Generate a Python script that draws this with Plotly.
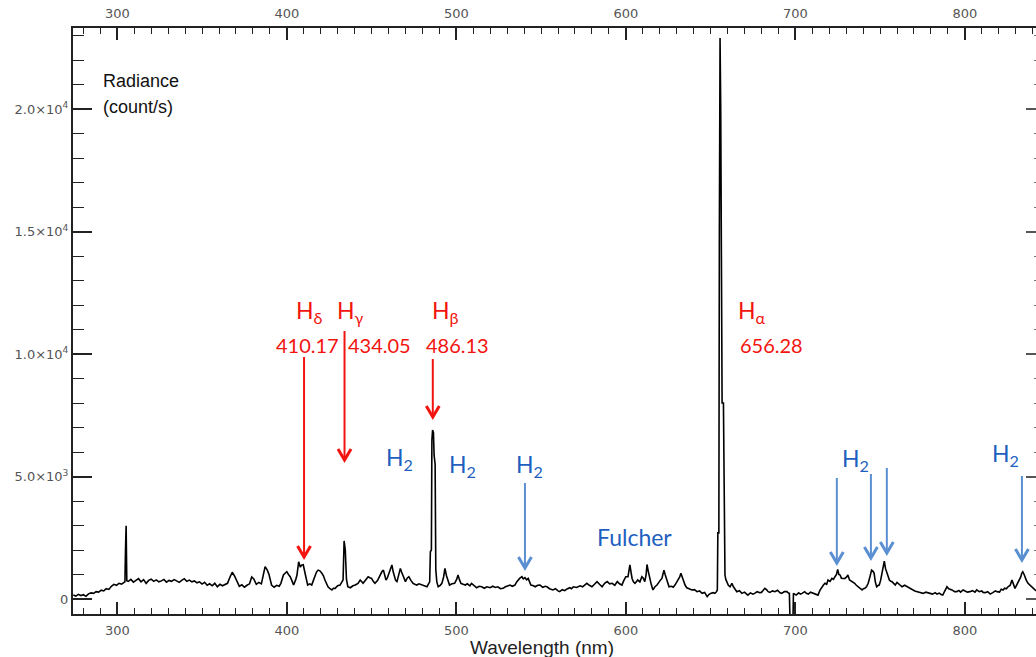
import plotly.graph_objects as go

# Measured spectrum: wavelength (nm) and radiance (count/s)
wavelength_nm = [
    274, 275.5, 277, 278.5, 280, 281.5, 283, 284.5, 286, 287.5, 289, 290.5,
    292, 293.5, 295, 296.5, 298, 299.5, 301, 302.5, 304, 304.5, 304.8, 305.2,
    305.6, 306.5, 308, 309.5, 311, 312.5, 314, 315.5, 317, 318.5, 320, 321.5,
    323, 324.5, 326, 327.5, 329, 330.5, 332, 333.5, 335, 336.5, 338, 339.5,
    341, 342.5, 344, 345.5, 347, 348.5, 350, 351.5, 353, 354.5, 356, 357.5,
    359, 360.5, 362, 363.5, 365, 366.5, 367.8, 369, 370.5, 372, 373.5, 375,
    376.5, 378, 379.3, 380.5, 382, 383.5, 385, 386.2, 387.2, 388.5, 389.5, 391,
    392.5, 394, 395.5, 396.5, 398, 399, 400, 401, 402, 403, 404, 405.2,
    406, 407, 408, 408.7, 409.7, 411, 412.3, 413.5, 414.7, 415.7, 416.6, 417.5,
    418.5, 419.5, 420.7, 421.6, 422.5, 423.5, 424.3, 425.5, 426.6, 427.5, 428.5, 430,
    431.4, 432.5, 433.2, 433.8, 434.5, 435.2, 436, 437.5, 439, 440.4, 442, 443.3,
    444.2, 445, 446.5, 448, 449, 450, 451, 452, 453.5, 455, 456, 457,
    457.8, 458.5, 459.3, 460, 461, 462, 462.8, 463.4, 464.2, 465, 466, 467,
    467.7, 468.5, 469.3, 470, 471, 472, 473.2, 474.5, 475.5, 476.7, 478, 479.7,
    481, 482.7, 483.6, 484.3, 484.7, 485.3, 485.6, 486.0, 486.5, 486.9, 487.5, 487.9,
    488.5, 489.3, 490.5, 491.5, 492.5, 493.3, 494.2, 495, 496, 497.5, 499, 500.2,
    501, 501.8, 502.7, 504, 505.3, 506.5, 508, 509, 510.5, 512, 513.5, 515,
    516.5, 518, 520, 521.5, 523, 524.5, 526, 527.6, 529, 530.5, 531.7, 533,
    534.6, 535.6, 536.5, 537.5, 538.7, 539.5, 540.5, 541.5, 542.4, 543.2, 544, 545.5,
    546.5, 548, 549.4, 551, 552.5, 553.5, 555, 557, 558.5, 560, 561, 562.5,
    564, 565.3, 567, 568, 569, 571, 573, 574.5, 576, 577, 578.5, 580,
    581.5, 583, 584.5, 586, 587.5, 589, 590.5, 592, 593.5, 595, 596.3, 597.7,
    598.8, 600, 601.3, 602.4, 603.2, 603.7, 604.5, 605.4, 606.2, 607, 608.3, 609.5,
    610.3, 611.2, 612, 612.5, 613.2, 614, 615, 616, 617.2, 618.4, 619.5, 620.5,
    621.3, 622, 622.5, 623.2, 623.8, 624.5, 625.5, 627, 628, 629, 630, 630.8,
    631.8, 632.5, 633.2, 634, 635, 636, 637.5, 639, 640.5, 642, 643.5, 645,
    646.5, 648, 649, 650, 651.5, 652.6, 653.5, 654.0, 654.3, 654.9, 655.2, 655.6,
    656.0, 656.4, 656.8, 657.6, 658.2, 658.5, 659, 659.7, 660.5, 661.5, 662.6, 663.5,
    664.5, 665.5, 667, 668.5, 670, 671, 672, 673.5, 675, 676, 677.5, 679,
    680, 681, 682, 683, 684, 685, 686.5, 688, 689.5, 691, 692, 693.5,
    695, 696, 696.5, 696.9, 698.6, 698.9, 700, 700.5, 702, 703, 704, 705.5,
    706.5, 707.7, 709, 710, 711.6, 712.5, 713.4, 714.5, 715.7, 716.5, 717.5, 718.5,
    719.3, 720.5, 721.6, 722.5, 723.4, 724.3, 725, 725.7, 726.4, 727.2, 728, 729.3,
    730.4, 731, 732, 733.4, 734, 735, 736, 737, 738.2, 739.4, 740.2, 741,
    742, 743, 744, 745, 746, 746.5, 747.2, 748, 749, 749.5, 750.3, 751,
    751.8, 752.5, 753.2, 754, 755, 755.5, 756.3, 757, 758, 759, 760, 760.8,
    762, 763, 764.5, 766, 767.5, 769, 770.5, 772, 773.5, 775.4, 777, 778.5,
    779.5, 781, 782.5, 783.6, 785, 786, 787, 788, 789.5, 790.5, 791.5, 792.4,
    794, 795.3, 796.5, 797.5, 799, 800.5, 801.5, 803, 804.5, 806, 807, 808.5,
    810, 810.8, 812, 813.5, 815, 816.5, 818, 819, 820.5, 821.5, 822.6, 823.5,
    824.5, 825.5, 826.8, 827.8, 828.6, 829.6, 830.5, 831.2, 832, 833, 833.6, 834.2,
    835, 835.4, 836.3, 837.3, 838.5, 839.6, 840.5, 841.4, 842.5, 843,
]
radiance_cps = [
    160, 120, 190, 140, 175, 110, 210, 250, 230, 300, 280, 360,
    330, 420, 390, 520, 600, 560, 640, 610, 680, 700, 1890, 2990,
    750, 720, 800, 690, 760, 830, 700, 790, 640, 760, 810, 720,
    780, 700, 740, 800, 690, 760, 720, 790, 740, 680, 760, 830,
    720, 770, 700, 740, 660, 700, 610, 680, 560, 620, 540, 640,
    500, 600, 540, 580, 640, 900, 1090, 960, 700, 520, 580, 480,
    560, 620, 900, 820, 600, 680, 620, 1100, 1320, 1180, 1000, 570,
    480, 560, 520, 640, 980, 1050, 1115, 1000, 910, 750, 570, 780,
    980, 1520, 1300, 1380, 1400, 980, 570, 620, 570, 760, 910, 1100,
    1180, 1150, 1050, 950, 775, 620, 500, 420, 370, 440, 435, 540,
    570, 700, 775, 2370, 2000, 800, 500, 460, 540, 570, 640, 775,
    700, 640, 780, 910, 870, 840, 720, 640, 750, 980, 1100, 1180,
    950, 775, 860, 980, 1150, 1390, 1100, 910, 760, 710, 1000, 1250,
    1100, 980, 800, 710, 850, 910, 760, 640, 600, 570, 620, 570,
    540, 500, 620, 700, 1930, 2000, 6500, 6900, 6800, 5870, 5500, 1200,
    700, 500, 560, 640, 900, 1250, 950, 775, 570, 620, 640, 800,
    980, 800, 640, 600, 570, 620, 540, 640, 540, 460, 520, 500,
    440, 500, 460, 520, 470, 500, 420, 435, 500, 540, 570, 520,
    570, 700, 775, 850, 910, 820, 870, 780, 840, 700, 570, 540,
    500, 560, 570, 480, 520, 500, 420, 370, 420, 330, 300, 380,
    340, 410, 460, 420, 500, 470, 540, 500, 580, 640, 560, 500,
    600, 710, 600, 500, 640, 710, 620, 640, 560, 710, 620, 570,
    750, 910, 910, 1390, 1050, 840, 700, 640, 700, 775, 700, 910,
    850, 710, 1000, 1410, 1150, 840, 600, 370, 500, 570, 710, 780,
    840, 1000, 1180, 1000, 840, 650, 500, 520, 480, 570, 680, 775,
    900, 1050, 900, 710, 560, 460, 420, 370, 380, 300, 330, 230,
    270, 95, 180, 230, 260, 230, 300, 370, 2700, 2700, 15000, 22900,
    20000, 15000, 8000, 8000, 2000, 980, 800, 640, 560, 500, 640, 500,
    400, 300, 340, 230, 280, 200, 160, 250, 200, 230, 300, 260,
    270, 350, 435, 380, 300, 270, 330, 300, 360, 250, 230, 300,
    300, 240, 230, -900, -900, 230, 200, 160, 250, 200, 230, 300,
    230, 200, 280, 250, 230, 200, 160, 350, 500, 560, 640, 600,
    775, 720, 840, 800, 910, 1000, 1210, 1000, 980, 850, 840, 840,
    910, 980, 775, 710, 710, 640, 560, 500, 440, 370, 420, 435,
    500, 640, 900, 1180, 1120, 1050, 700, 500, 560, 570, 750, 980,
    1300, 1550, 1250, 1050, 850, 775, 720, 710, 640, 570, 680, 640,
    560, 500, 560, 500, 420, 370, 330, 300, 260, 230, 280, 230,
    230, 200, 260, 200, 240, 180, 160, 300, 500, 420, 400, 370,
    300, 300, 350, 280, 370, 330, 280, 300, 340, 280, 370, 300,
    330, 270, 260, 300, 200, 260, 330, 300, 280, 400, 370, 440,
    420, 500, 560, 775, 600, 435, 560, 650, 710, 900, 1050, 1110,
    1000, 910, 760, 640, 560, 500, 420, 370, 330, 300,
]

# Balmer lines: label, wavelength (nm)
balmer_names = ["H<sub>δ</sub>", "H<sub>γ</sub>", "H<sub>β</sub>", "H<sub>α</sub>"]
balmer_nm = [410.17, 434.05, 486.13, 656.28]

# Axis ticks
y_tickvals = [0, 5000, 10000, 15000, 20000]
y_ticktext = ["0", "5.0×10<sup>3</sup>", "1.0×10<sup>4</sup>",
              "1.5×10<sup>4</sup>", "2.0×10<sup>4</sup>"]

X_RANGE = [273.86, 842.0]
Y_RANGE = [-612, 23306]
W, H = 1036, 657
MARGIN = dict(l=73, r=0, t=28, b=43)

RED = "#f2140f"
BLUE_TEXT = "#1e5fbf"
BLUE_ARROW = "#5a8fd2"
LABEL_FONT = "Lato, 'Noto Sans', sans-serif"

# data units per screen pixel, used to size the arrowheads
nm_per_px = (X_RANGE[1] - X_RANGE[0]) / (W - MARGIN["l"] - MARGIN["r"])
cnt_per_px = (Y_RANGE[1] - Y_RANGE[0]) / (H - MARGIN["t"] - MARGIN["b"])

fig = go.Figure()
fig.add_trace(go.Scatter(
    x=wavelength_nm, y=radiance_cps, mode="lines",
    line=dict(color="black", width=1.6), hoverinfo="x+y",
))
# same spectrum bound to the top/right axes so those axes get drawn
fig.add_trace(go.Scatter(
    x=wavelength_nm, y=radiance_cps, mode="lines", xaxis="x2", yaxis="y2",
    line=dict(color="rgba(0,0,0,0)", width=0), hoverinfo="skip",
))

shapes = []


def add_arrow(x, y_top, y_tip, color):
    shapes.append(dict(type="line", xref="x", yref="y", x0=x, x1=x,
                       y0=y_top, y1=y_tip + 2 * cnt_per_px,
                       line=dict(color=color, width=2)))
    hw = 6.5 * nm_per_px
    hh = 11 * cnt_per_px
    path = (f"M {x - hw},{y_tip + hh} L {x},{y_tip} L {x + hw},{y_tip + hh}")
    shapes.append(dict(type="path", xref="x", yref="y", path=path,
                       line=dict(color=color, width=3)))


# Balmer arrows (Hδ, Hγ, Hβ): top of shaft, arrow tip
red_arrow_top = [9878, 10939, 9796]
red_arrow_tip = [1714, 5673, 7429]
for wl, top, tip in zip(balmer_nm[:3], red_arrow_top, red_arrow_tip):
    add_arrow(wl, top, tip, RED)

# Molecular hydrogen band arrows
h2_arrow_nm = [540.5, 724.5, 744.6, 754.0, 833.7]
h2_arrow_top = [4735, 4939, 5102, 5347, 5020]
h2_arrow_tip = [1265, 1469, 1673, 1878, 1592]
for wl, top, tip in zip(h2_arrow_nm, h2_arrow_top, h2_arrow_tip):
    add_arrow(wl, top, tip, BLUE_ARROW)

annotations = []

# Balmer line names and wavelengths
balmer_name_pos = [(413.1, 11755), (437.3, 11755), (493.9, 11755), (674.4, 11755)]
balmer_value_pos = [(412.2, 10388), (454.4, 10388), (500.7, 10388), (685.7, 10388)]
for name, wl, (nx, ny), (vx, vy) in zip(balmer_names, balmer_nm,
                                        balmer_name_pos, balmer_value_pos):
    annotations.append(dict(x=nx, y=ny, text=name, showarrow=False,
                            xanchor="center", yanchor="middle",
                            font=dict(family=LABEL_FONT, size=23, color=RED)))
    annotations.append(dict(x=vx, y=vy, text=f"{wl:.2f}", showarrow=False,
                            xanchor="center", yanchor="middle",
                            font=dict(family=LABEL_FONT, size=20, color=RED)))

# H2 / Fulcher band labels
h2_labels = ["H<sub>2</sub>"] * 3 + ["Fulcher"] + ["H<sub>2</sub>"] * 2
h2_label_pos = [(466.2, 5755), (503.6, 5469), (542.9, 5469),
                (605.4, 2531), (735.5, 5714), (824.0, 5878)]
for txt, (lx, ly) in zip(h2_labels, h2_label_pos):
    annotations.append(dict(x=lx, y=ly, text=txt, showarrow=False,
                            xanchor="center", yanchor="middle",
                            font=dict(family=LABEL_FONT, size=23, color=BLUE_TEXT)))

# Quantity label in the upper-left corner
annotations.append(dict(x=290.4, y=21143, text="Radiance", showarrow=False,
                        xanchor="left", yanchor="middle",
                        font=dict(family="Liberation Sans, Arial", size=18, color="#111")))
annotations.append(dict(x=290.4, y=20082, text="(count/s)", showarrow=False,
                        xanchor="left", yanchor="middle",
                        font=dict(family="Liberation Sans, Arial", size=18, color="#111")))

# Bottom axis title
annotations.append(dict(x=550.6, xref="x", y=-0.057, yref="paper",
                        text="Wavelength (nm)", showarrow=False,
                        xanchor="center", yanchor="middle",
                        font=dict(family="Liberation Sans, Arial", size=19, color="#222")))

tick_font = dict(family="DejaVu Sans", size=13, color="#555")
axis_color = "#222"

x_common = dict(
    range=X_RANGE, showline=True, linecolor=axis_color, linewidth=2,
    ticks="inside", ticklen=12, tickwidth=1.5, tickcolor=axis_color,
    tickmode="linear", tick0=0, dtick=100, tickfont=tick_font,
    ticklabelstandoff=3,
    minor=dict(ticks="inside", ticklen=6, tickwidth=1.2, tickcolor=axis_color,
               tickmode="linear", tick0=0, dtick=10),
    showgrid=False, zeroline=False,
)

fig.update_layout(
    width=W, height=H, margin=MARGIN,
    plot_bgcolor="white", paper_bgcolor="white", showlegend=False,
    xaxis=dict(**x_common),
    xaxis2=dict(**x_common, overlaying="x", side="top", anchor="y2"),
    yaxis=dict(
        range=Y_RANGE, showline=True, linecolor=axis_color, linewidth=2,
        ticks="inside", ticklen=19, tickwidth=1.5, tickcolor=axis_color,
        tickmode="array", tickvals=y_tickvals, ticktext=y_ticktext,
        tickfont=tick_font,
        minor=dict(ticks="inside", ticklen=11, tickwidth=1.2, tickcolor=axis_color,
                   tickmode="linear", tick0=0, dtick=1000),
        showgrid=False, zeroline=False,
    ),
    yaxis2=dict(
        range=Y_RANGE, overlaying="y", side="right", anchor="x2",
        showline=False, ticks="inside", ticklen=10, tickwidth=1.5,
        tickcolor="#555", tickmode="array", tickvals=y_tickvals,
        showticklabels=False,
        minor=dict(ticks="inside", ticklen=2, tickwidth=1.2, tickcolor="#777",
                   tickmode="linear", tick0=0, dtick=1000),
        showgrid=False, zeroline=False,
    ),
    shapes=shapes,
    annotations=annotations,
)

fig.write_html("out.html")
